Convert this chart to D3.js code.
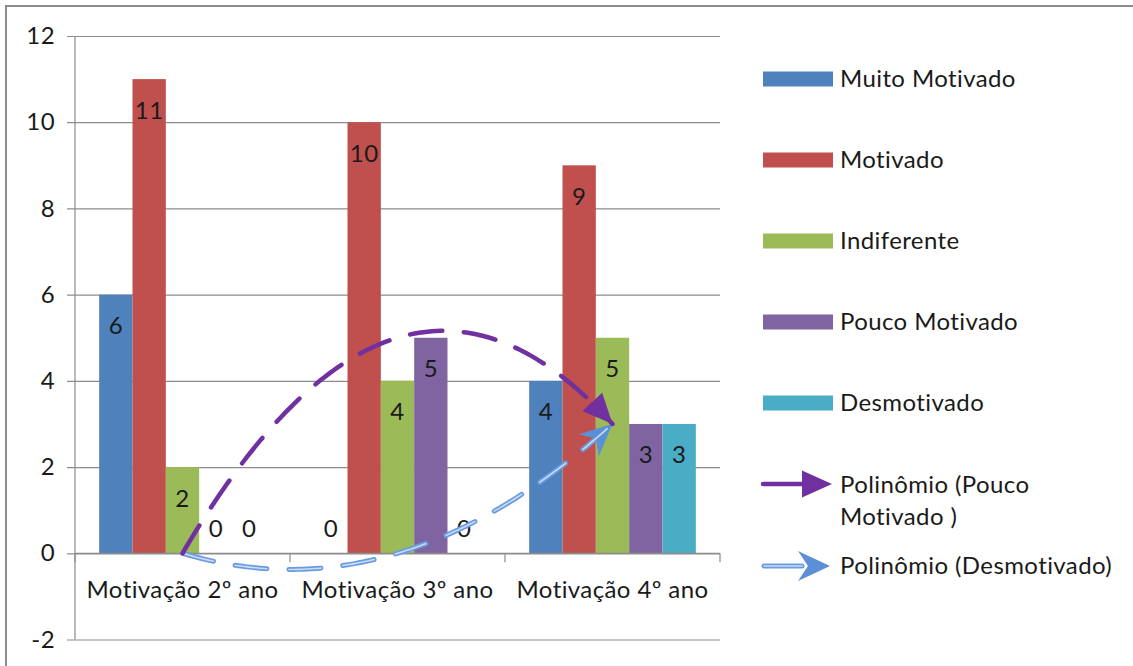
<!DOCTYPE html>
<html>
<head>
<meta charset="utf-8">
<script src="https://cdn.jsdelivr.net/npm/d3@7"></script>
<style>
  html, body { margin: 0; padding: 0; background: #fff; }
  svg { display: block; }
  text { font-family: Lato, "Open Sans", sans-serif; fill: #1a1a1a; letter-spacing: 0.4px; }
</style>
</head>
<body>
<svg id="chart" width="1133" height="666"></svg>
<script>
// ---- data ----
const categories = ["Motivação 2º ano", "Motivação 3º ano", "Motivação 4º ano"];
const seriesNames = ["Muito Motivado", "Motivado", "Indiferente", "Pouco Motivado", "Desmotivado"];
const muitoMotivado = [6, 0, 4];
const motivado = [11, 10, 9];
const indiferente = [2, 4, 5];
const poucoMotivado = [0, 5, 3];
const desmotivado = [0, 0, 3];
const yTicks = [-2, 0, 2, 4, 6, 8, 10, 12];
const yTickLabels = ["-2", "0", "2", "4", "6", "8", "10", "12"];
const trendNames = ["Polinômio (Pouco Motivado )", "Polinômio (Desmotivado)"];

const seriesValues = [muitoMotivado, motivado, indiferente, poucoMotivado, desmotivado];
const colors = ["#4f81bd", "#c0504d", "#9bbb59", "#8064a2", "#4bacc6"];
const FONT = 24;

const svg = d3.select("#chart");

// outer frame (only top and left edges visible)
svg.append("rect").attr("x", 6).attr("y", 6).attr("width", 1200).attr("height", 700)
  .attr("fill", "none").attr("stroke", "#8c8c8c").attr("stroke-width", 2);

const pLeft = 75, pRight = 720, pTop = 36, pBottom = 639.5;
const y = d3.scaleLinear().domain([-2, 12]).range([pBottom, pTop]);
const x = d3.scaleBand().domain(categories).range([pLeft, pRight]).padding(0);
const xs = d3.scaleBand().domain(seriesNames).range([0, x.bandwidth()])
  .paddingInner(0).paddingOuter(0.725);

// gridlines + y ticks
const gY = svg.append("g").attr("transform", `translate(${pLeft},0)`);
gY.call(d3.axisLeft(y).tickValues(yTicks).tickSize(-(pRight - pLeft)).tickSizeOuter(0).tickPadding(20)
  .tickFormat((d, i) => yTickLabels[i]));
gY.select(".domain").remove();
gY.selectAll(".tick line").attr("stroke", "#8c8c8c").attr("stroke-width", 1.2).attr("x1", -8);
gY.selectAll(".tick text").style("font-size", FONT + "px").style("font-family", "Lato").attr("fill", "#1a1a1a");

// y axis line
svg.append("line").attr("x1", pLeft).attr("x2", pLeft).attr("y1", pTop).attr("y2", pBottom)
  .attr("stroke", "#8c8c8c").attr("stroke-width", 1.2);

// bars
const bars = svg.append("g");
categories.forEach((c, ci) => {
  seriesNames.forEach((s, si) => {
    const v = seriesValues[si][ci];
    const bx = x(c) + xs(s);
    if (v > 0) {
      bars.append("rect").attr("x", bx).attr("y", y(v)).attr("width", xs.bandwidth())
        .attr("height", y(0) - y(v)).attr("fill", colors[si]);
    }
  });
});

// x axis line at 0 with category tick marks
const gX = svg.append("g").attr("transform", `translate(0,${y(0)})`);
gX.append("line").attr("x1", pLeft).attr("x2", pRight).attr("stroke", "#8c8c8c").attr("stroke-width", 1.2);
[pLeft, ...categories.map(c => x(c) + x.bandwidth())].forEach(px => {
  gX.append("line").attr("x1", px).attr("x2", px).attr("y1", 0).attr("y2", 9)
    .attr("stroke", "#8c8c8c").attr("stroke-width", 1.2);
});
gX.selectAll("text.cat").data(categories).enter().append("text")
  .attr("class", "cat")
  .attr("x", d => x(d) + x.bandwidth() / 2).attr("y", 35)
  .attr("text-anchor", "middle").attr("dominant-baseline", "central")
  .style("font-size", FONT + "px").text(d => d);

// data labels
const labels = svg.append("g");
categories.forEach((c, ci) => {
  seriesNames.forEach((s, si) => {
    const v = seriesValues[si][ci];
    const cx = x(c) + xs(s) + xs.bandwidth() / 2;
    const cy = v > 0 ? y(v) + 30 : y(0) - 26;
    labels.append("text").attr("x", cx).attr("y", cy)
      .attr("text-anchor", "middle").attr("dominant-baseline", "central")
      .style("font-size", FONT + "px").text(v);
  });
});

// polynomial (order 2) least-squares trendlines computed from the series
function polyFit2(vals) {
  const xsv = vals.map((_, i) => i + 1);
  const n = vals.length;
  let S = [0,0,0,0,0], T = [0,0,0];
  for (let i = 0; i < n; i++) {
    for (let k = 0; k <= 4; k++) S[k] += Math.pow(xsv[i], k);
    for (let k = 0; k <= 2; k++) T[k] += vals[i] * Math.pow(xsv[i], k);
  }
  const A = [[S[0], S[1], S[2], T[0]], [S[1], S[2], S[3], T[1]], [S[2], S[3], S[4], T[2]]];
  for (let i = 0; i < 3; i++) {
    let p = i;
    for (let r = i + 1; r < 3; r++) if (Math.abs(A[r][i]) > Math.abs(A[p][i])) p = r;
    [A[i], A[p]] = [A[p], A[i]];
    for (let r = 0; r < 3; r++) if (r !== i) {
      const f = A[r][i] / A[i][i];
      for (let k = i; k < 4; k++) A[r][k] -= f * A[i][k];
    }
  }
  const c = A.map((r, i) => r[3] / r[i]);
  return t => c[0] + c[1] * t + c[2] * t * t;
}
const catX = t => x(categories[0]) + x.bandwidth() / 2 + (t - 1) * x.step();
const line = d3.line().x(d => catX(d[0])).y(d => y(d[1])).curve(d3.curveLinear);
const samples = d3.range(1, 3.0001, 0.02);

const defs = svg.append("defs");
defs.append("marker").attr("id", "triPurple").attr("markerUnits", "userSpaceOnUse")
  .attr("viewBox", "-30 -14 31 28").attr("refX", 0).attr("refY", 0)
  .attr("markerWidth", 31).attr("markerHeight", 28).attr("orient", "auto")
  .append("path").attr("d", "M0,0 L-30,-13.5 L-30,13.5 Z").attr("fill", "#7030a0");
defs.append("marker").attr("id", "stealthBlue").attr("markerUnits", "userSpaceOnUse")
  .attr("viewBox", "-32 -16 33 32").attr("refX", 0).attr("refY", 0)
  .attr("markerWidth", 33).attr("markerHeight", 32).attr("orient", "auto")
  .append("path").attr("d", "M0,0 L-32,-15 L-22,0 L-32,15 Z").attr("fill", "#5b8fd6");

const fPouco = polyFit2(poucoMotivado);
const fDesm = polyFit2(desmotivado);
const trend = svg.append("g");
trend.append("path").datum(samples.map(t => [t, fDesm(t)])).attr("d", line)
  .attr("fill", "none").attr("stroke", "#6a9be0").attr("stroke-width", 5)
  .attr("stroke-dasharray", "32 22").attr("stroke-linecap", "round")
  .attr("marker-end", "url(#stealthBlue)");
trend.append("path").datum(samples.map(t => [t, fDesm(t)])).attr("d", line)
  .attr("fill", "none").attr("stroke", "#c9dcf4").attr("stroke-width", 1.6)
  .attr("stroke-dasharray", "32 22").attr("stroke-linecap", "round");
trend.append("path").datum(samples.map(t => [t, fPouco(t)])).attr("d", line)
  .attr("fill", "none").attr("stroke", "#7030a0").attr("stroke-width", 4.5)
  .attr("stroke-dasharray", "32.5 21.5").attr("stroke-linecap", "round")
  .attr("marker-end", "url(#triPurple)");

// legend
const lg = svg.append("g");
const legX = 763, textX = 840, step = 81, firstY = 79, textDy = -1.5;
seriesNames.forEach((s, i) => {
  const cy = firstY + i * step;
  lg.append("rect").attr("x", legX).attr("y", cy - 7.5).attr("width", 70).attr("height", 15)
    .attr("fill", colors[i]);
  lg.append("text").attr("x", textX).attr("y", cy + textDy).attr("dominant-baseline", "central")
    .style("font-size", FONT + "px").text(s);
});
// trendline legend entries
const t1y = firstY + 5 * step;
lg.append("line").attr("x1", 763).attr("x2", 806).attr("y1", t1y).attr("y2", t1y)
  .attr("stroke", "#7030a0").attr("stroke-width", 4.5).attr("stroke-linecap", "round");
lg.append("path").attr("d", `M802,${t1y - 13.5} L832,${t1y} L802,${t1y + 13.5} Z`).attr("fill", "#7030a0");
const t1 = lg.append("text").attr("x", textX).attr("y", t1y + textDy).attr("dominant-baseline", "central")
  .style("font-size", FONT + "px");
t1.append("tspan").attr("x", textX).text("Polinômio (Pouco");
t1.append("tspan").attr("x", textX).attr("dy", 32).text("Motivado )");

const t2y = firstY + 6 * step + 1;
lg.append("line").attr("x1", 764).attr("x2", 802).attr("y1", t2y).attr("y2", t2y)
  .attr("stroke", "#6a9be0").attr("stroke-width", 5).attr("stroke-linecap", "round");
lg.append("line").attr("x1", 764).attr("x2", 802).attr("y1", t2y).attr("y2", t2y)
  .attr("stroke", "#c9dcf4").attr("stroke-width", 1.6).attr("stroke-linecap", "round");
lg.append("path").attr("d", `M830,${t2y} L798,${t2y - 15} L808,${t2y} L798,${t2y + 15} Z`).attr("fill", "#5b8fd6");
lg.append("text").attr("x", textX).attr("y", t2y + textDy).attr("dominant-baseline", "central")
  .style("font-size", FONT + "px").text("Polinômio (Desmotivado)");
</script>
</body>
</html>
